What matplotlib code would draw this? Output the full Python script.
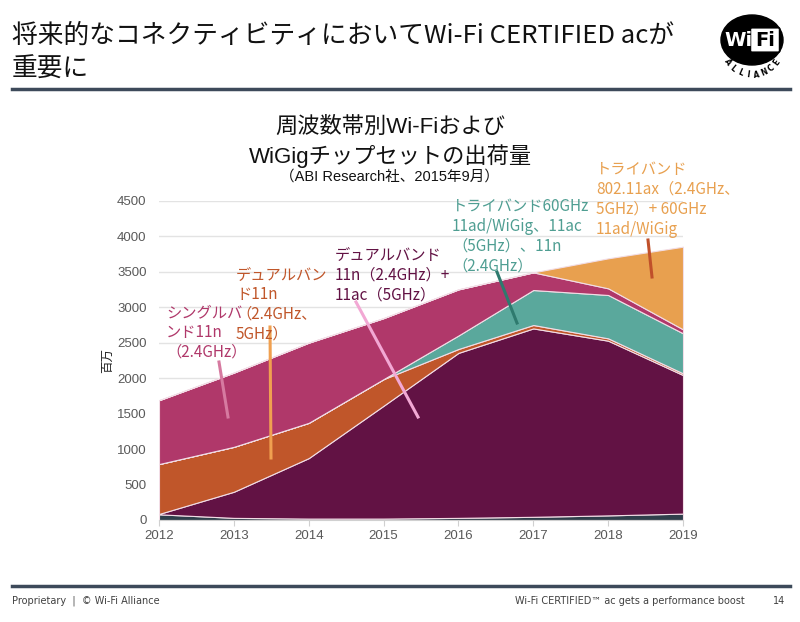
import numpy as np
import matplotlib
matplotlib.use("Agg")
import matplotlib.pyplot as plt
from matplotlib.patches import Ellipse, FancyBboxPatch
from matplotlib.lines import Line2D

plt.rcParams['font.family'] = ['Noto Sans CJK JP', 'DejaVu Sans']
MIX = ['Liberation Sans', 'Noto Sans CJK JP', 'DejaVu Sans']

# ---- data (millions of units) ----
years = [2012, 2013, 2014, 2015, 2016, 2017, 2018, 2019]
other = [80, 30, 20, 20, 30, 45, 65, 90]
dual_11n_11ac = [5, 368, 852, 1590, 2325, 2655, 2462, 1953]
dual_11n = [703, 633, 497, 375, 55, 48, 33, 24]
tri_60ghz = [0, 0, 0, 0, 190, 493, 611, 564]
single_11n = [900, 1046, 1130, 860, 650, 249, 94, 56]
tri_11ax = [0, 0, 0, 0, 0, 0, 423, 1165]
yticks = [0, 500, 1000, 1500, 2000, 2500, 3000, 3500, 4000, 4500]

colors = ['#2f3f4b', '#621244', '#c0562a', '#5aa89c', '#b0386a', '#e8a04f']

W, H = 800, 622
fig = plt.figure(figsize=(W / 100, H / 100), dpi=100)
fig.patch.set_facecolor('white')

def fx(x):
    return x / W

def fy(y):
    return 1 - y / H

# ---- slide title ----
fig.text(fx(12), fy(36), '将来的なコネクティビティにおいてWi-Fi CERTIFIED acが',
         fontsize=18.5, color='#111111', va='center', ha='left')
fig.text(fx(12), fy(70), '重要に', fontsize=18.5, color='#111111', va='center', ha='left')
fig.add_artist(Line2D([fx(12), fx(790)], [fy(89), fy(89)], color='#3d4a5a', lw=2.5))

# ---- logo ----
fig.add_artist(Ellipse((fx(752), fy(40)), 62 / W, 50 / H, color='black'))
fig.add_artist(FancyBboxPatch((fx(752), fy(51)), 26 / W, 22 / H,
                              boxstyle='round,pad=0.002', fc='white', ec='black', lw=1.2))
fig.text(fx(738), fy(40), 'Wi', color='white', fontsize=14, fontweight='bold',
         ha='center', va='center', family='DejaVu Sans')
fig.text(fx(765), fy(40), 'Fi', color='black', fontsize=14, fontweight='bold',
         ha='center', va='center', family='DejaVu Sans')
letters = 'ALLIANCE'
for i, ch in enumerate(letters):
    ang = np.deg2rad(215 + i * (110 / (len(letters) - 1)))
    lx = 752 + 30 * np.cos(ang)
    ly = 45 - 30 * np.sin(ang)
    fig.text(fx(lx), fy(ly), ch, fontsize=5.5, fontweight='bold', ha='center', va='center',
             rotation=np.rad2deg(ang) + 90, family='DejaVu Sans')

# ---- chart title ----
fig.text(fx(390), fy(127), '周波数帯別Wi-Fiおよび', fontsize=16, ha='center', va='center',
         color='#111111', family=MIX)
fig.text(fx(390), fy(156), 'WiGigチップセットの出荷量', fontsize=16, ha='center', va='center',
         color='#111111', family=MIX)
fig.text(fx(390), fy(177), '（ABI Research社、2015年9月）', fontsize=10.5, ha='center', va='center',
         color='#111111', family=MIX)

# ---- axes ----
ax = fig.add_axes([fx(159), fy(520), (683 - 159) / W, (520 - 200.7) / H])
ax.stackplot(years, other, dual_11n_11ac, dual_11n, tri_60ghz, single_11n, tri_11ax,
             colors=colors, edgecolor='#f2dde6', linewidth=0.8)
ax.set_xlim(2012, 2019)
ax.set_ylim(0, 4500)
ax.set_yticks(yticks)
ax.set_xticks(years)
ax.set_xticklabels([str(y) for y in years])
ax.grid(axis='y', color='#e3e3e3', lw=1)
ax.set_axisbelow(True)
for s in ['top', 'right', 'left']:
    ax.spines[s].set_visible(False)
ax.spines['bottom'].set_color('#d0d0d0')
ax.tick_params(axis='y', length=0, labelsize=9.5, labelcolor='#595959', pad=9)
ax.tick_params(axis='x', length=4, color='#d0d0d0', labelsize=9.5, labelcolor='#595959', pad=3)
for lab in ax.get_xticklabels() + ax.get_yticklabels():
    lab.set_family(MIX)
ax.set_ylabel('百万', fontsize=9, color='#222222', labelpad=2)

# ---- annotations (figure pixel coordinates) ----
def ann(x, y, s, color):
    fig.text(fx(x), fy(y), s, fontsize=11, color=color, ha='left', va='top',
             linespacing=1.22, family=['Noto Sans CJK JP', 'DejaVu Sans'])

def leader(x0, y0, x1, y1, color):
    fig.add_artist(Line2D([fx(x0), fx(x1)], [fy(y0), fy(y1)], color=color, lw=2.2))

ann(166, 304, 'シングルバ\nンド11n\n（2.4GHz）', '#b0386a')
ann(236, 266, 'デュアルバン\nド11n\n（2.4GHz、\n5GHz）', '#c0562a')
ann(335, 247, 'デュアルバンド\n11n（2.4GHz）+\n11ac（5GHz）', '#621244')
ann(452, 198, 'トライバンド60GHz\n11ad/WiGig、11ac\n（5GHz）、11n\n（2.4GHz）', '#4f9e92')
ann(596, 161, 'トライバンド\n802.11ax（2.4GHz、\n5GHz）+ 60GHz\n11ad/WiGig', '#e8a04f')

leader(219, 362, 228, 417, '#d67aa0')
leader(270, 327, 271, 458, '#f0a050')
leader(356, 302, 418, 417, '#f2a8d4')
leader(497, 272, 517, 323, '#2e7a6e')
leader(648, 240, 652, 277, '#c0502a')

# ---- footer ----
fig.add_artist(Line2D([fx(12), fx(790)], [fy(586), fy(586)], color='#3d4a5a', lw=2.5))
fig.text(fx(12), fy(601), 'Proprietary  |  © Wi-Fi Alliance', fontsize=7, color='#404040',
         ha='left', va='center', family='DejaVu Sans')
fig.text(fx(745), fy(601), 'Wi-Fi CERTIFIED™ ac gets a performance boost', fontsize=7, color='#404040',
         ha='right', va='center', family='DejaVu Sans')
fig.text(fx(785), fy(601), '14', fontsize=7, color='#404040', ha='right', va='center', family='DejaVu Sans')

fig.savefig('out.png', dpi=100)
